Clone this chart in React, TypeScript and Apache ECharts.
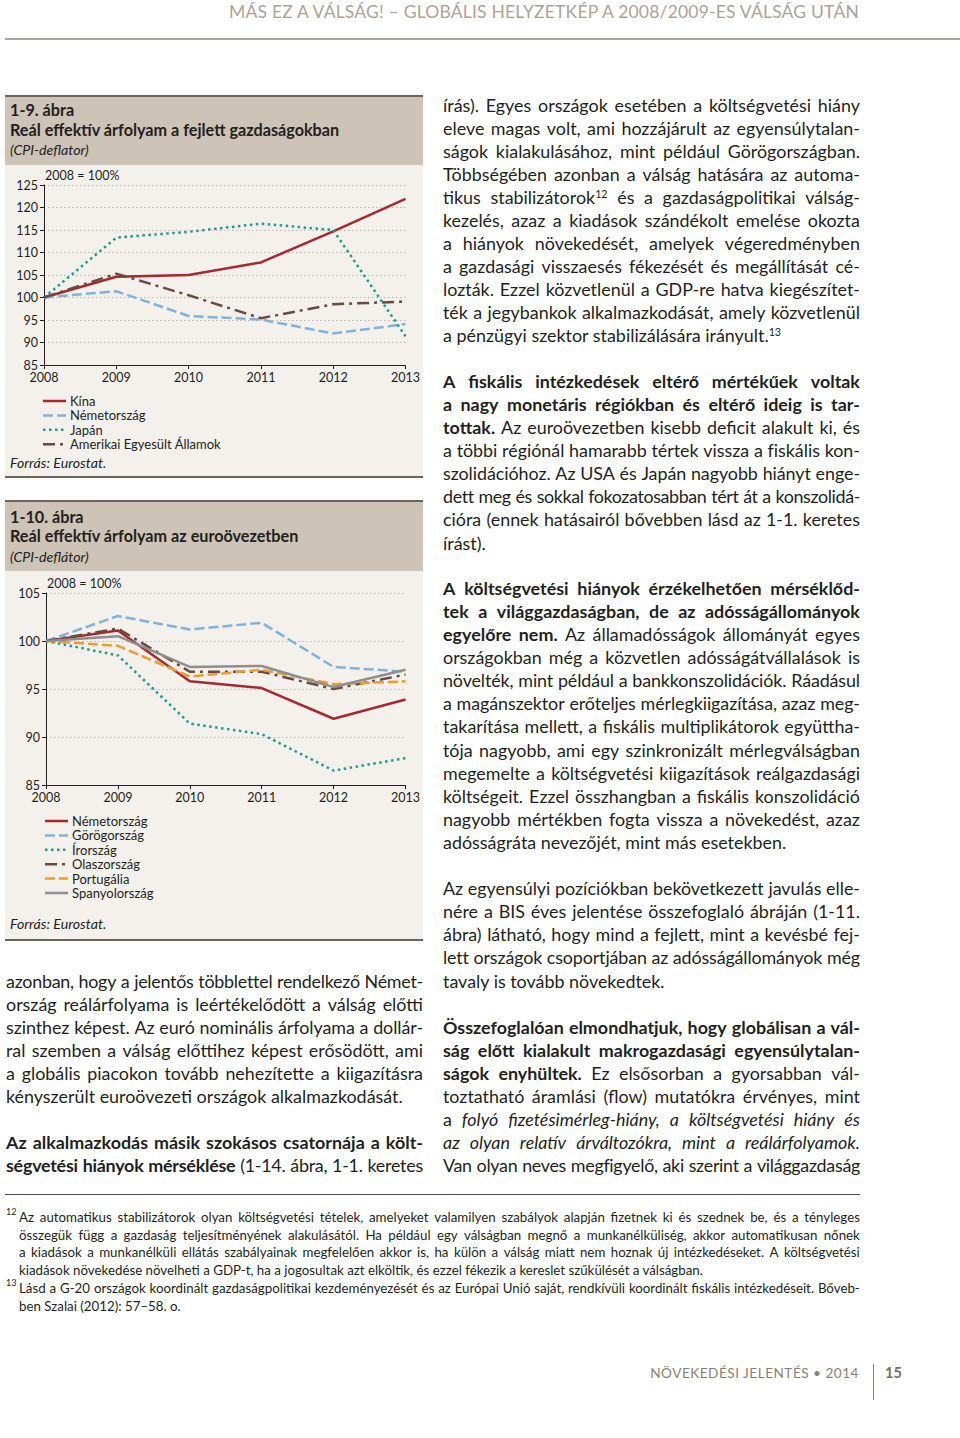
import React, { useEffect, useLayoutEffect, useRef } from 'react';
import * as echarts from 'echarts';

const FONT = 'Lato, "Open Sans", "DejaVu Sans", sans-serif';

// ---------- chart data ----------
const years = ['2008', '2009', '2010', '2011', '2012', '2013'];

// 1-9. ábra
const kina = [100, 104.6, 105.0, 107.8, 114.7, 121.9];
const nemet1 = [100, 101.4, 95.9, 95.1, 92.0, 94.1];
const japan = [100, 113.3, 114.6, 116.4, 115.0, 91.4];
const usa = [100, 105.3, 100.5, 95.4, 98.5, 99.1];

// 1-10. ábra
const nemet2 = [100, 101.1, 95.8, 95.1, 91.9, 93.9];
const gorog = [100, 102.6, 101.2, 101.9, 97.3, 96.8];
const ir = [100, 98.5, 91.4, 90.3, 86.5, 87.8];
const olasz = [100, 101.3, 96.8, 96.8, 95.0, 96.5];
const portugal = [100, 99.5, 96.3, 97.0, 95.5, 95.8];
const spanyol = [100, 100.5, 97.3, 97.4, 95.2, 97.0];

const RED = '#a8282c';
const BLUE = '#7fb2dc';
const TEAL = '#1c9c8a';
const BROWN = '#6b4b3e';
const ORANGE = '#ee9b30';
const GREY = '#8e8e90';

const SOLID: number[] | null = null;
const DASH = [10, 4];
const DOT = [2.5, 3.5];
const DASHDOT = [12, 5, 3, 5];

type S = { name: string; data: number[]; color: string; dash: number[] | null };

const series1: S[] = [
  { name: 'Kína', data: kina, color: RED, dash: SOLID },
  { name: 'Németország', data: nemet1, color: BLUE, dash: DASH },
  { name: 'Japán', data: japan, color: TEAL, dash: DOT },
  { name: 'Amerikai Egyesült Államok', data: usa, color: BROWN, dash: DASHDOT },
];

const series2: S[] = [
  { name: 'Németország', data: nemet2, color: RED, dash: SOLID },
  { name: 'Görögország', data: gorog, color: BLUE, dash: DASH },
  { name: 'Írország', data: ir, color: TEAL, dash: DOT },
  { name: 'Olaszország', data: olasz, color: BROWN, dash: DASHDOT },
  { name: 'Portugália', data: portugal, color: ORANGE, dash: DASH },
  { name: 'Spanyolország', data: spanyol, color: GREY, dash: SOLID },
];

function makeOption(p: {
  series: S[];
  min: number;
  max: number;
  grid: any;
  legendX: number;
  legendY: number;
  unitX: number;
  unitY: number;
}) {
  const legendEls: any[] = [];
  p.series.forEach((s, i) => {
    const y = p.legendY + i * 14.4;
    legendEls.push({
      type: 'line',
      shape: { x1: p.legendX, y1: y, x2: p.legendX + 23, y2: y },
      style: { stroke: s.color, lineWidth: 2.5, lineDash: s.dash || undefined },
    });
    legendEls.push({
      type: 'text',
      x: p.legendX + 27,
      y,
      style: {
        text: s.name,
        fontSize: 13,
        fontFamily: FONT,
        fill: '#231f20',
        verticalAlign: 'middle',
        align: 'left',
      },
    });
  });
  return {
    animation: false,
    textStyle: { fontFamily: FONT },
    grid: p.grid,
    graphic: [
      {
        type: 'text',
        x: p.unitX,
        y: p.unitY,
        style: { text: '2008 = 100%', fontSize: 12.5, fontFamily: FONT, fill: '#231f20' },
      },
      ...legendEls,
    ],
    xAxis: {
      type: 'category',
      data: years,
      boundaryGap: false,
      axisLine: { lineStyle: { color: '#231f20', width: 1 } },
      axisTick: { show: true, length: 4, lineStyle: { color: '#231f20' } },
      axisLabel: { fontSize: 12.5, color: '#231f20', margin: 6, fontFamily: FONT },
      splitLine: { show: false },
    },
    yAxis: {
      type: 'value',
      min: p.min,
      max: p.max,
      interval: 5,
      axisLine: { show: true, lineStyle: { color: '#231f20', width: 1 } },
      axisTick: { show: true, length: 4, lineStyle: { color: '#231f20' } },
      axisLabel: { fontSize: 12.5, color: '#231f20', margin: 6, fontFamily: FONT },
      splitLine: { show: true, lineStyle: { type: [1.5, 2.5], color: '#bdb7ae', width: 1 } },
    },
    series: p.series.map((s) => ({
      name: s.name,
      type: 'line',
      data: s.data,
      symbol: 'none',
      showSymbol: false,
      color: s.color,
      lineStyle: { color: s.color, width: 2.5, type: s.dash || 'solid' },
    })),
  };
}

// ---------- page text ----------
type Seg = { t: string; b?: boolean; i?: boolean; sup?: boolean };
type Line = { x: number; y: number; j: boolean; s: Seg[] };
const T = (t: string): Seg => ({ t });
const B = (t: string): Seg => ({ t, b: true });
const I = (t: string): Seg => ({ t, i: true });
const SUP = (t: string): Seg => ({ t, sup: true });

const L = 6;
const R = 443;

const bodyLines: Line[] = [
  // left column
  { x: L, y: 981, j: true, s: [T('azonban, hogy a jelentős többlettel rendelkező Német-')] },
  { x: L, y: 1004, j: true, s: [T('ország reálárfolyama is leértékelődött a válság előtti')] },
  { x: L, y: 1027, j: true, s: [T('szinthez képest. Az euró nominális árfolyama a dollár-')] },
  { x: L, y: 1050, j: true, s: [T('ral szemben a válság előttihez képest erősödött, ami')] },
  { x: L, y: 1073, j: true, s: [T('a globális piacokon tovább nehezítette a kiigazításra')] },
  { x: L, y: 1096, j: false, s: [T('kényszerült euroövezeti országok alkalmazkodását.')] },
  { x: L, y: 1142, j: true, s: [B('Az alkalmazkodás másik szokásos csatornája a költ-')] },
  { x: L, y: 1165, j: true, s: [B('ségvetési hiányok mérséklése'), T(' (1-14. ábra, 1-1. keretes')] },
  // right column, paragraph 1
  { x: R, y: 105, j: true, s: [T('írás). Egyes országok esetében a költségvetési hiány')] },
  { x: R, y: 128, j: true, s: [T('eleve magas volt, ami hozzájárult az egyensúlytalan-')] },
  { x: R, y: 151, j: true, s: [T('ságok kialakulásához, mint például Görögországban.')] },
  { x: R, y: 174, j: true, s: [T('Többségében azonban a válság hatására az automa-')] },
  { x: R, y: 197, j: true, s: [T('tikus stabilizátorok'), SUP('12'), T(' és a gazdaságpolitikai válság-')] },
  { x: R, y: 220, j: true, s: [T('kezelés, azaz a kiadások szándékolt emelése okozta')] },
  { x: R, y: 243, j: true, s: [T('a hiányok növekedését, amelyek végeredményben')] },
  { x: R, y: 266, j: true, s: [T('a gazdasági visszaesés fékezését és megállítását cé-')] },
  { x: R, y: 289, j: true, s: [T('lozták. Ezzel közvetlenül a GDP-re hatva kiegészítet-')] },
  { x: R, y: 312, j: true, s: [T('ték a jegybankok alkalmazkodását, amely közvetlenül')] },
  { x: R, y: 335, j: false, s: [T('a pénzügyi szektor stabilizálására irányult.'), SUP('13')] },
  // paragraph 2
  { x: R, y: 381, j: true, s: [B('A fiskális intézkedések eltérő mértékűek voltak')] },
  { x: R, y: 404, j: true, s: [B('a nagy monetáris régiókban és eltérő ideig is tar-')] },
  { x: R, y: 427, j: true, s: [B('tottak.'), T(' Az euroövezetben kisebb deficit alakult ki, és')] },
  { x: R, y: 450, j: true, s: [T('a többi régiónál hamarabb tértek vissza a fiskális kon-')] },
  { x: R, y: 473, j: true, s: [T('szolidációhoz. Az USA és Japán nagyobb hiányt enge-')] },
  { x: R, y: 496, j: true, s: [T('dett meg és sokkal fokozatosabban tért át a konszolidá-')] },
  { x: R, y: 519, j: true, s: [T('cióra (ennek hatásairól bővebben lásd az 1-1. keretes')] },
  { x: R, y: 543, j: false, s: [T('írást).')] },
  // paragraph 3
  { x: R, y: 588, j: true, s: [B('A költségvetési hiányok érzékelhetően mérséklőd-')] },
  { x: R, y: 611, j: true, s: [B('tek a világgazdaságban, de az adósságállományok')] },
  { x: R, y: 634, j: true, s: [B('egyelőre nem.'), T(' Az államadósságok állományát egyes')] },
  { x: R, y: 657, j: true, s: [T('országokban még a közvetlen adósságátvállalások is')] },
  { x: R, y: 680, j: true, s: [T('növelték, mint például a bankkonszolidációk. Ráadásul')] },
  { x: R, y: 703, j: true, s: [T('a magánszektor erőteljes mérlegkiigazítása, azaz meg-')] },
  { x: R, y: 726, j: true, s: [T('takarítása mellett, a fiskális multiplikátorok együttha-')] },
  { x: R, y: 750, j: true, s: [T('tója nagyobb, ami egy szinkronizált mérlegválságban')] },
  { x: R, y: 773, j: true, s: [T('megemelte a költségvetési kiigazítások reálgazdasági')] },
  { x: R, y: 796, j: true, s: [T('költségeit. Ezzel összhangban a fiskális konszolidáció')] },
  { x: R, y: 819, j: true, s: [T('nagyobb mértékben fogta vissza a növekedést, azaz')] },
  { x: R, y: 842, j: false, s: [T('adósságráta nevezőjét, mint más esetekben.')] },
  // paragraph 4
  { x: R, y: 888, j: true, s: [T('Az egyensúlyi pozíciókban bekövetkezett javulás elle-')] },
  { x: R, y: 911, j: true, s: [T('nére a BIS éves jelentése összefoglaló ábráján (1-11.')] },
  { x: R, y: 934, j: true, s: [T('ábra) látható, hogy mind a fejlett, mint a kevésbé fej-')] },
  { x: R, y: 957, j: true, s: [T('lett országok csoportjában az adósságállományok még')] },
  { x: R, y: 981, j: false, s: [T('tavaly is tovább növekedtek.')] },
  // paragraph 5
  { x: R, y: 1027, j: true, s: [B('Összefoglalóan elmondhatjuk, hogy globálisan a vál-')] },
  { x: R, y: 1050, j: true, s: [B('ság előtt kialakult makrogazdasági egyensúlytalan-')] },
  { x: R, y: 1073, j: true, s: [B('ságok enyhültek.'), T(' Ez elsősorban a gyorsabban vál-')] },
  { x: R, y: 1096, j: true, s: [T('toztatható áramlási (flow) mutatókra érvényes, mint')] },
  { x: R, y: 1119, j: true, s: [T('a '), I('folyó fizetésimérleg-hiány, a költségvetési hiány és')] },
  { x: R, y: 1142, j: true, s: [I('az olyan relatív árváltozókra, mint a reálárfolyamok.')] },
  { x: R, y: 1165, j: true, s: [T('Van olyan neves megfigyelő, aki szerint a világgazdaság')] },
];

const FN = 19;
const footLines: Line[] = [
  { x: FN, y: 1217, j: true, s: [T('Az automatikus stabilizátorok olyan költségvetési tételek, amelyeket valamilyen szabályok alapján fizetnek ki és szednek be, és a tényleges')] },
  { x: FN, y: 1235, j: true, s: [T('összegük függ a gazdaság teljesítményének alakulásától. Ha például egy válságban megnő a munkanélküliség, akkor automatikusan nőnek')] },
  { x: FN, y: 1252, j: true, s: [T('a kiadások a munkanélküli ellátás szabályainak megfelelően akkor is, ha külön a válság miatt nem hoznak új intézkedéseket. A költségvetési')] },
  { x: FN, y: 1270, j: false, s: [T('kiadások növekedése növelheti a GDP-t, ha a jogosultak azt elköltik, és ezzel fékezik a kereslet szűkülését a válságban.')] },
  { x: FN, y: 1288, j: true, s: [T('Lásd a G-20 országok koordinált gazdaságpolitikai kezdeményezését és az Európai Unió saját, rendkívüli koordinált fiskális intézkedéseit. Bőveb-')] },
  { x: FN, y: 1306, j: false, s: [T('ben Szalai (2012): 57–58. o.')] },
];

function segEl(s: Seg, k: number) {
  if (s.sup)
    return (
      <sup key={k} style={{ fontSize: '0.6em', lineHeight: 0, verticalAlign: '0.6em' }}>
        {s.t}
      </sup>
    );
  return (
    <span key={k} style={{ fontWeight: s.b ? 700 : 400, fontStyle: s.i ? 'italic' : 'normal' }}>
      {s.t}
    </span>
  );
}

function words(segs: Seg[]): Seg[][] {
  const out: Seg[][] = [[]];
  for (const s of segs) {
    const parts = s.t.split(' ');
    parts.forEach((p, idx) => {
      if (idx > 0) out.push([]);
      if (p) out[out.length - 1].push({ ...s, t: p });
    });
  }
  return out.filter((w) => w.length);
}

function TextLine({ ln, width, size, lh, gap }: { ln: Line; width: number; size: number; lh: number; gap: number }) {
  const base: React.CSSProperties = {
    position: 'absolute',
    left: ln.x,
    top: ln.y - lh / 2,
    width,
    height: lh,
    lineHeight: lh + 'px',
    fontSize: size,
    fontFamily: FONT,
    color: '#231f20',
    whiteSpace: 'nowrap',
  };
  if (!ln.j) return <div style={base}>{ln.s.map(segEl)}</div>;
  return (
    <div data-fit={gap} style={{ ...base, display: 'flex', justifyContent: 'space-between' }}>
      {words(ln.s).map((w, i) => (
        <span key={i} style={{ flex: 'none' }}>
          {w.map(segEl)}
        </span>
      ))}
    </div>
  );
}

function fitLines(root: HTMLElement) {
  root.querySelectorAll<HTMLElement>('[data-fit]').forEach((el) => {
    el.style.letterSpacing = '0px';
    const minGap = parseFloat(el.dataset.fit || '3');
    const kids = Array.from(el.children) as HTMLElement[];
    let sum = 0;
    kids.forEach((k) => (sum += k.getBoundingClientRect().width));
    const need = sum + (kids.length - 1) * minGap - el.getBoundingClientRect().width;
    if (need > 0) {
      const chars = (el.textContent || '').replace(/\s/g, '').length;
      el.style.letterSpacing = (-need / chars).toFixed(3) + 'px';
    }
  });
}

function abs(left: number, top: number, extra: React.CSSProperties = {}): React.CSSProperties {
  return { position: 'absolute', left, top, ...extra };
}

const titleStyle: React.CSSProperties = {
  fontFamily: FONT,
  fontSize: 16.2,
  color: '#231f20',
  whiteSpace: 'nowrap',
  lineHeight: '20px',
};

export default function App() {
  const c1 = useRef<HTMLDivElement>(null);
  const c2 = useRef<HTMLDivElement>(null);
  const page = useRef<HTMLDivElement>(null);

  // tighten justified lines whose natural width leaves too little room for word gaps
  useLayoutEffect(() => {
    const root = page.current;
    if (!root) return;
    fitLines(root);
    const fonts: any = (document as any).fonts;
    if (fonts && fonts.ready) fonts.ready.then(() => page.current && fitLines(page.current));
  }, []);

  useEffect(() => {
    const ch1 = echarts.init(c1.current!, null, { renderer: 'svg' });
    ch1.setOption(
      makeOption({
        series: series1,
        min: 85,
        max: 125,
        grid: { left: 39, right: 17, top: 20, bottom: 111 },
        legendX: 38,
        legendY: 236,
        unitX: 40,
        unitY: 4,
      })
    );
    const ch2 = echarts.init(c2.current!, null, { renderer: 'svg' });
    ch2.setOption(
      makeOption({
        series: series2,
        min: 85,
        max: 105,
        grid: { left: 41, right: 16, top: 22, bottom: 155 },
        legendX: 40,
        legendY: 250,
        unitX: 42,
        unitY: 6,
      })
    );
    return () => {
      ch1.dispose();
      ch2.dispose();
    };
  }, []);

  return (
    <div
      ref={page}
      style={{
        position: 'absolute',
        left: 0,
        top: 0,
        width: 960,
        height: 1438,
        background: '#ffffff',
        overflow: 'hidden',
        fontFamily: FONT,
      }}
    >
      {/* running header */}
      <div
        style={abs(0, 0, {
          width: 859,
          textAlign: 'right',
          height: 24,
          lineHeight: '24px',
          fontSize: 17.5,
          color: '#aca397',
          whiteSpace: 'nowrap',
          letterSpacing: 0.2,
        })}
      >
        MÁS EZ A VÁLSÁG! – GLOBÁLIS HELYZETKÉP A 2008/2009-ES VÁLSÁG UTÁN
      </div>
      <div style={abs(5, 38, { width: 955, height: 2, background: '#aaa69e' })} />

      {/* figure 1-9 */}
      <div
        style={abs(5, 95, {
          width: 418,
          height: 70,
          background: '#cdc3b7',
          borderTop: '2px solid #6f6359',
          boxSizing: 'border-box',
        })}
      />
      <div style={abs(10, 100, { ...titleStyle, fontWeight: 700 })}>1-9. ábra</div>
      <div style={abs(10, 120, { ...titleStyle, fontWeight: 700 })}>
        Reál effektív árfolyam a fejlett gazdaságokban
      </div>
      <div style={abs(10, 140, { ...titleStyle, fontStyle: 'italic', fontSize: 14.2 })}>(CPI-deflator)</div>
      <div style={abs(5, 165, { width: 418, height: 311, background: '#f4f1ed' })}>
        <div ref={c1} style={{ width: 418, height: 311 }} />
      </div>
      <div style={abs(10, 453, { ...titleStyle, fontStyle: 'italic', fontSize: 14.2 })}>Forrás: Eurostat.</div>
      <div style={abs(5, 476, { width: 418, height: 2, background: '#6f6359' })} />

      {/* figure 1-10 */}
      <div
        style={abs(5, 500, {
          width: 418,
          height: 71,
          background: '#cdc3b7',
          borderTop: '2px solid #6f6359',
          boxSizing: 'border-box',
        })}
      />
      <div style={abs(10, 507, { ...titleStyle, fontWeight: 700 })}>1-10. ábra</div>
      <div style={abs(10, 526, { ...titleStyle, fontWeight: 700 })}>
        Reál effektív árfolyam az euroövezetben
      </div>
      <div style={abs(10, 547, { ...titleStyle, fontStyle: 'italic', fontSize: 14.2 })}>(CPI-deflátor)</div>
      <div style={abs(5, 571, { width: 418, height: 369, background: '#f4f1ed' })}>
        <div ref={c2} style={{ width: 418, height: 369 }} />
      </div>
      <div style={abs(10, 914, { ...titleStyle, fontStyle: 'italic', fontSize: 14.2 })}>Forrás: Eurostat.</div>
      <div style={abs(5, 939, { width: 418, height: 2, background: '#6f6359' })} />

      {/* body text */}
      {bodyLines.map((ln, i) => (
        <TextLine key={i} ln={ln} width={417} size={17.9} lh={22} gap={4.8} />
      ))}

      {/* footnotes */}
      <div style={abs(5, 1194, { width: 855, height: 1, background: '#4d4d4d' })} />
      <div style={abs(6, 1207, { fontSize: 9, fontFamily: FONT, color: '#231f20', lineHeight: '10px' })}>12</div>
      <div style={abs(6, 1278, { fontSize: 9, fontFamily: FONT, color: '#231f20', lineHeight: '10px' })}>13</div>
      {footLines.map((ln, i) => (
        <TextLine key={'f' + i} ln={ln} width={841} size={13.3} lh={17} gap={3.4} />
      ))}

      {/* footer */}
      <div
        style={abs(0, 1362, {
          width: 859,
          textAlign: 'right',
          fontSize: 13.6,
          lineHeight: '22px',
          color: '#8a8174',
          letterSpacing: 0.5,
          whiteSpace: 'nowrap',
        })}
      >
        NÖVEKEDÉSI JELENTÉS • 2014
      </div>
      <div style={abs(873, 1364, { width: 1, height: 36, background: '#8a8174' })} />
      <div
        style={abs(885, 1362, {
          fontSize: 14.5,
          fontWeight: 700,
          lineHeight: '22px',
          color: '#7a6c5c',
        })}
      >
        15
      </div>
    </div>
  );
}
